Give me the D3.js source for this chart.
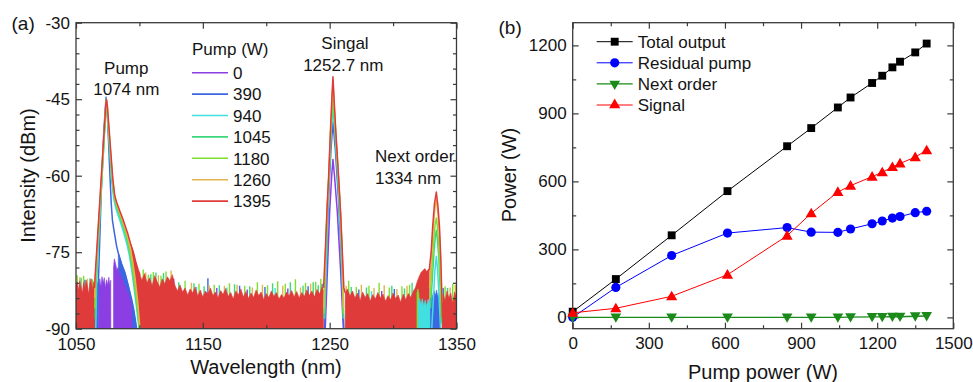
<!DOCTYPE html>
<html><head><meta charset="utf-8">
<script src="https://cdn.jsdelivr.net/npm/d3@7"></script>
<style>
body{margin:0;background:#fff}
svg{display:block}
text{font-family:"Liberation Sans",Arial,sans-serif;fill:#141414}
</style></head>
<body><svg id="c" width="973" height="382"></svg>
<script>
// ---------------- Panel (a) data: spectra ----------------
const pumpLevels = ["0","390","940","1045","1180","1260","1395"];
const xTicksA = [1050,1150,1250,1350];
const xMinorA = [1100,1200,1300];
const yTicksA = [-90,-75,-60,-45,-30];

// 1395 W (red)
const pump1395 = [[1064.6,-82],[1065,-80],[1067,-72],[1069,-64],[1071,-56],[1072.5,-50],[1073.5,-46],[1074,-45],[1074.8,-46.5],[1076,-50.5],[1077.5,-55.5],[1079,-60.5],[1080.5,-63.8],[1082,-65.2],[1083.5,-66.2],[1085,-67.2],[1087,-68.5],[1089,-70],[1091,-71.5],[1093,-73.3],[1095,-74.8],[1097,-76.8],[1099,-78.5],[1100.5,-79.5]];
const signal1395 = [[1245.2,-82],[1246.5,-75],[1248,-66],[1249.2,-60],[1250.5,-52],[1251.6,-45.5],[1252.6,-40.6],[1253.6,-45.5],[1255,-52],[1257,-60],[1258.8,-68],[1260,-75],[1261.2,-82],[1262.3,-83]];
const next1395 = [[1328.5,-78.5],[1330,-75],[1331.2,-70],[1332.6,-65.5],[1334.1,-63.2],[1335.4,-66],[1336.6,-70],[1337.6,-76],[1338.3,-82],[1338.8,-88]];
const floor1395 = [
 [[1050,-90],[1050,-81.5],[1051,-80.8],[1052,-82.5],[1053,-80.6],[1054,-81.8],[1055,-83],[1056,-80.9],[1057,-82.2],[1058,-80.5],[1059,-81.6],[1060,-83.2],[1061,-81],[1062,-80.2],[1063,-82.4],[1064,-80.8],[1064.6,-81.5],[1065.1,-90]],
 [[1100.5,-90],[1093,-73.3],[1095,-74.8],[1097,-76.8],[1099,-78.5],[1100.5,-79.5],[1102,-80.5],[1104,-79.2],[1106,-81],[1108,-80],[1110,-81.6],[1112,-79.6],[1114,-80.8],[1116,-81.8],[1118,-80.2],[1120,-81.2],[1122,-79.8],[1124,-80.6],[1126,-79.4],[1128,-81.5],[1130,-82.6],[1132,-81.4],[1134,-82.8],[1136,-82],[1138,-83.4],[1140,-82.2],[1142,-83],[1144,-81.8],[1146,-83.6],[1148,-82.4],[1150,-83.8],[1152,-82.6],[1154,-83.2],[1156,-82],[1158,-83.5],[1160,-82.8],[1162,-84],[1164,-82.5],[1166,-83.3],[1168,-82.1],[1170,-83.7],[1172,-82.9],[1174,-84.2],[1176,-82.6],[1178,-83.4],[1180,-82.2],[1182,-83.8],[1184,-82.7],[1186,-84.1],[1188,-83],[1190,-83.9],[1192,-82.4],[1194,-83.5],[1196,-82.8],[1198,-84.3],[1200,-83.1],[1202,-83.9],[1204,-82.6],[1206,-83.7],[1208,-82.9],[1210,-84.2],[1212,-83.3],[1214,-84],[1216,-82.8],[1218,-83.6],[1220,-82.5],[1222,-83.8],[1224,-82.7],[1226,-84],[1228,-82.9],[1230,-83.7],[1232,-82.4],[1234,-83.5],[1236,-82.6],[1238,-83.8],[1240,-82.3],[1242,-83.2],[1244,-81.8],[1245.2,-82.5],[1245.2,-90]],
 [[1262.3,-90],[1262.3,-83],[1264,-82.2],[1266,-83.6],[1268,-82.6],[1270,-84],[1272,-83],[1274,-84.5],[1276,-82.8],[1278,-83.9],[1280,-83.1],[1282,-84.6],[1284,-83.3],[1286,-84.2],[1288,-82.9],[1290,-84],[1292,-83.2],[1294,-84.6],[1296,-83.5],[1298,-84.3],[1300,-83],[1302,-84.1],[1304,-83.4],[1306,-84.8],[1308,-83.2],[1310,-84.3],[1312,-83.1],[1314,-83.9],[1316,-82.6],[1317.5,-82],[1319,-80.8],[1320.5,-79.8],[1322,-79],[1323.5,-78.6],[1325,-78.2],[1326.5,-78.8],[1328,-78.3],[1328.5,-78.5],[1328.5,-90]],
 [[1338.6,-90],[1338.6,-86],[1339.5,-83.2],[1341,-84.5],[1342.5,-82.6],[1344,-84],[1345.5,-83],[1347,-85.2],[1348.5,-82.8],[1350,-84],[1350,-90]]
];

// 1260 W (gold)
const pump1260 = [[1064.8,-84],[1065.3,-80],[1067.2,-72],[1069.2,-64],[1071.2,-56],[1072.6,-50],[1073.6,-46],[1074,-45.1],[1074.7,-46.6],[1075.8,-50.5],[1077.3,-55.5],[1078.8,-60.5],[1080.3,-63.8],[1081.8,-65.3],[1083.3,-66.4],[1084.8,-67.4],[1086.8,-68.9],[1088.8,-70.4],[1090.8,-72],[1092.6,-73.9],[1094.5,-76.5],[1096.5,-80],[1098.6,-84.5],[1100.4,-90]];
const signal1260 = [[1245.4,-86],[1246.7,-75],[1248.1,-66],[1249.3,-60],[1250.6,-52],[1251.7,-46],[1252.6,-41.3],[1253.5,-46],[1254.9,-52],[1256.9,-60],[1258.7,-68],[1259.9,-75],[1261,-86]];
const next1260 = [[1328.8,-82],[1330.3,-76],[1331.5,-71],[1332.8,-66.8],[1334.1,-64.5],[1335.3,-67.3],[1336.5,-71.5],[1337.5,-77],[1338.4,-85]];
const tips1260 = [[1053,-79.9],[1059,-80.2],[1105,-79],[1115,-79.5],[1125,-78.6],[1141,-81],[1155,-81.5],[1167,-81.6],[1177,-81.4],[1189,-81.9],[1197,-81.4],[1213,-81.6],[1227,-81.9],[1235,-81.2],[1263,-81.6],[1275,-81.4],[1285,-82],[1293,-81.5],[1303,-82.2],[1311,-81.6],[1345,-81.9],[1349,-81.4]];

// 1180 W (yellow-green)
const pump1180 = [[1065,-86],[1065.5,-80],[1067.4,-72],[1069.4,-64],[1071.3,-56],[1072.7,-50],[1073.7,-46],[1074,-45.2],[1074.6,-46.7],[1075.7,-50.6],[1077.1,-55.6],[1078.6,-60.6],[1080.1,-63.9],[1081.6,-65.5],[1083.1,-66.6],[1084.6,-67.6],[1086.6,-69.1],[1088.6,-70.7],[1090.6,-72.4],[1092.4,-74.4],[1094.3,-77.3],[1096.3,-81],[1098.4,-85.3],[1100.2,-90]];
const signal1180 = [[1245.5,-87],[1246.8,-75],[1248.2,-66],[1249.4,-60],[1250.7,-52],[1251.8,-46.5],[1252.6,-42],[1253.4,-46.5],[1254.8,-52],[1256.8,-60],[1258.6,-68],[1259.8,-75],[1260.9,-87]];
const next1180 = [[1329.2,-84],[1330.6,-78],[1332,-72.5],[1333.2,-69.5],[1334.1,-68.3],[1335,-70],[1336.2,-74],[1337.3,-80],[1338.3,-88]];
const tips1180 = [[1051,-79.5],[1056,-79.6],[1063,-80.3],[1103,-78.4],[1107,-79.4],[1111,-78.9],[1117,-79.6],[1121,-78.8],[1136,-80.6],[1147,-81.2],[1159,-81.4],[1171,-81.1],[1183,-81.6],[1193,-80.9],[1201,-81.5],[1209,-80.7],[1215,-81.2],[1223,-80.3],[1231,-81],[1239,-80.8],[1243,-80.2],[1265,-80.6],[1271,-81.8],[1281,-81.6],[1289,-81],[1297,-81.9],[1307,-81.7],[1313,-81.4],[1341,-81.7],[1347,-81.2]];
const fill1180 = [[[1318.8,-90],[1318.8,-83],[1319.6,-82.2],[1320.4,-83.4],[1320.7,-90]]];

// 1045 W (green)
const pump1045 = [[1065.2,-88],[1065.8,-80],[1067.6,-72],[1069.6,-64],[1071.5,-56],[1072.8,-50],[1073.7,-46.2],[1074,-45.3],[1074.5,-46.8],[1075.6,-50.8],[1077,-55.8],[1078.4,-60.8],[1079.9,-64],[1081.4,-65.7],[1082.9,-66.8],[1084.4,-67.9],[1086.4,-69.4],[1088.4,-71],[1090.4,-72.8],[1092.2,-74.8],[1094.1,-77.8],[1096.1,-81.5],[1098.2,-85.8],[1100,-90]];
const signal1045 = [[1245.6,-88],[1247,-75],[1248.4,-66],[1249.6,-60],[1250.9,-52.5],[1251.9,-47.5],[1252.6,-43.5],[1253.3,-47.5],[1254.6,-52.5],[1256.6,-60],[1258.4,-68],[1259.6,-75],[1260.8,-88]];
const next1045 = [[1329.5,-86],[1331,-80],[1332.4,-74.5],[1333.4,-71.8],[1334.1,-70.7],[1334.9,-72.5],[1336,-76],[1337.1,-82],[1338.1,-89]];
const tips1045 = [[1054,-80],[1061,-80.1],[1109,-79.3],[1113,-79],[1119,-79.1],[1131,-80.9],[1143,-81.1],[1151,-81.7],[1163,-81.5],[1175,-81.3],[1187,-81.7],[1205,-81.1],[1219,-80.9],[1229,-81.6],[1237,-80.9],[1241,-81.5],[1267,-81.8],[1279,-81.9],[1299,-81.6],[1309,-82.1],[1315,-81],[1343,-82]];

// 940 W (cyan)
const pump940 = [[1065.6,-90],[1066.2,-82],[1068,-72],[1069.9,-63],[1071.7,-55],[1073,-49],[1073.7,-44.8],[1074.4,-46.8],[1075.4,-51],[1076.8,-56],[1078.2,-61],[1079.7,-64.4],[1081.2,-66.2],[1082.7,-67.4],[1084.2,-68.5],[1086.2,-70],[1088.2,-71.7],[1090.2,-73.5],[1092,-75.5],[1093.9,-78.5],[1095.9,-82.2],[1098,-86.5],[1099.7,-90]];
const signal940 = [[1246,-88],[1247.5,-76],[1249.2,-62],[1251,-52],[1252.6,-46.5],[1254.3,-52],[1256.8,-62],[1259,-74],[1261,-88]];
const next940 = [[1330.5,-90],[1331.8,-84],[1333,-78.5],[1334.1,-75.8],[1335.1,-78.5],[1336.3,-84],[1337.4,-90]];
const tips940 = [[1145,-81.8],[1169,-81.9],[1207,-82],[1283,-82.6]];
const fill940 = [[[1319.8,-90],[1319.8,-85],[1320.8,-84],[1322,-85.2],[1323,-84.1],[1324.2,-85.5],[1325.3,-84.4],[1326.5,-85.6],[1327.6,-84.2],[1328.8,-85],[1330,-84.3],[1331,-90]]];

// 390 W (blue)
const pump390 = [[1066.3,-90],[1067.5,-82],[1068.8,-72],[1070.3,-60],[1072,-51],[1073.7,-44.6],[1074.5,-47],[1075.5,-52.4],[1076.8,-60.2],[1077.8,-65.5],[1078.7,-68.7],[1080,-70.8],[1080.8,-72],[1082,-73.8],[1083.4,-75.2],[1086,-77.3],[1088.7,-79.1],[1091.5,-81.8],[1094,-84.4],[1095.5,-86.2],[1096.6,-88],[1097.8,-90]];
const signal390 = [[1246,-90],[1247.5,-78],[1249.2,-64],[1251,-55],[1252.6,-49.5],[1254.5,-55],[1256.8,-64],[1259,-75],[1261.2,-90]];
const tips390 = [[1057,-80.4],[1154,-80.1],[1179,-81.6],[1199,-81.8],[1233,-81.7],[1244,-81.2],[1273,-82.3],[1301,-82.2],[1339.5,-82]];
const fill390 = [
 [[1065.3,-90],[1065.3,-81],[1066,-80.3],[1066.8,-81.4],[1067.6,-80.6],[1068,-90]],
 [[1083.4,-90],[1083.4,-75.2],[1086,-77.3],[1088.7,-79.1],[1091.5,-81.8],[1094,-84.4],[1095.5,-86.2],[1096.6,-88],[1097.8,-90]],
 [[1329.5,-90],[1329.5,-84],[1330.5,-83],[1331.5,-84.2],[1332.5,-82.6],[1333.5,-83.5],[1334.3,-82.4],[1335.2,-83.8],[1336,-83],[1337,-85],[1337.5,-90]]
];

// 0 W (purple)
const signal0 = [[1246.5,-90],[1248,-80],[1250,-67],[1251.6,-60],[1252.6,-56.8],[1253.8,-60],[1256,-67],[1258.5,-78],[1260.8,-90]];
const tips0 = [[1127,-80.2],[1161,-82],[1185,-82.3],[1217,-82.1],[1291,-82.6]];
const fill0 = [
 [[1068,-90],[1068,-81.5],[1068.8,-80.2],[1069.6,-81.8],[1070.5,-79.8],[1071.4,-81],[1072.3,-80],[1073.2,-82],[1074.1,-80.4],[1075,-81.4],[1075.9,-79.9],[1076.7,-81.6],[1077.4,-80.5],[1077.5,-90]],
 [[1079.6,-90],[1079.6,-78],[1080.2,-76.3],[1081.2,-77.2],[1082.2,-78.5],[1083.2,-78],[1084.2,-79.6],[1085.2,-79.2],[1086.2,-80.8],[1087.2,-80.3],[1088.2,-81.9],[1089.2,-81.5],[1090.2,-83],[1091.2,-82.7],[1092.2,-84.3],[1093,-84],[1093.8,-85.6],[1094.4,-90]]
];

// ---------------- Panel (b) data ----------------
const pumpPower    = [0,170,390,610,845,940,1045,1095,1180,1220,1260,1290,1350,1395];
const totalOutput  = [25,169,362,557,755,835,926,970,1034,1066,1103,1128,1169,1208];
const residualPump = [0,132,273,372,396,376,375,390,413,425,438,445,462,468];
const nextOrder    = [0,0,0,0,0,0,0,1,2,2,3,3,5,6];
const signalPower  = [20,40,93,188,360,459,553,581,621,640,663,679,707,737];
const seriesNamesB = ["Total output","Residual pump","Next order","Signal"];
const xTicksB = [0,300,600,900,1200,1500];
const xMinorB = [150,450,750,1050,1350];
const yTicksB = [0,300,600,900,1200];
const yMinorB = [150,450,750,1050];

// ---------------- drawing ----------------
const colorsA = ["#8b3fe3","#3c67e3","#42dfe0","#3dd87d","#7fdf31","#e1b64b","#e03b3b"];
const svg = d3.select("#c");
const frameColor = "#3a3a3a";

const ax = d3.scaleLinear().domain([1050,1350]).range([76,456.5]);
const ay = d3.scaleLinear().domain([-90,-30]).range([328.7,22.7]);

svg.append("clipPath").attr("id","clipA").append("rect")
  .attr("x",ax(1050)).attr("y",ay(-30)).attr("width",ax(1350)-ax(1050)).attr("height",ay(-90)-ay(-30));
const gA = svg.append("g").attr("clip-path","url(#clipA)");
const lineA = d3.line().x(d=>ax(d[0])).y(d=>ay(d[1]));
const polyA = pts => lineA(pts) + "Z";

const tipsBy = [tips0,tips390,tips940,tips1045,tips1180,tips1260];
tipsBy.forEach((tips,i)=>{
  gA.append("g").selectAll("line").data(tips).join("line")
    .attr("x1",d=>ax(d[0])).attr("x2",d=>ax(d[0]))
    .attr("y1",ay(-90)).attr("y2",d=>ay(d[1]))
    .attr("stroke",colorsA[i]).attr("stroke-width",1.4);
});
// red floor
gA.append("g").selectAll("path").data(floor1395).join("path")
  .attr("d",polyA).attr("fill",colorsA[6]).attr("stroke",colorsA[6]).attr("stroke-width",0.6);
// lower-power filled regions
[[fill1180,4],[fill940,2],[fill390,1],[fill0,0]].forEach(([polys,i])=>{
  gA.append("g").selectAll("path").data(polys).join("path")
    .attr("d",polyA).attr("fill",colorsA[i]).attr("stroke",colorsA[i]).attr("stroke-width",0.6);
});
// peak lines
const linesBy = [
  [signal0],
  [pump390,signal390],
  [pump940,signal940,next940],
  [pump1045,signal1045,next1045],
  [pump1180,signal1180,next1180],
  [pump1260,signal1260,next1260],
  [pump1395,signal1395,next1395]
];
linesBy.forEach((ls,i)=>{
  gA.append("g").selectAll("path").data(ls).join("path")
    .attr("d",lineA).attr("fill","none").attr("stroke",colorsA[i])
    .attr("stroke-width",1.5).attr("stroke-linejoin","round");
});

function styleAxis(g){
  g.select(".domain").remove();
  g.selectAll("line").attr("stroke",frameColor).attr("stroke-width",1.2);
  g.selectAll("text").attr("font-size",17).attr("fill","#141414")
    .attr("font-family","Liberation Sans, Arial, sans-serif");
}
function frame(xs,ys,xt,xm,yt,ym,fmt,xPad,yPad){
  const x0=xs.range()[0],x1=xs.range()[1],y0=ys.range()[0],y1=ys.range()[1];
  const h=y0-y1,w=x1-x0;
  svg.append("g").attr("transform",`translate(0,${y0})`)
    .call(d3.axisBottom(xs).tickValues(xt).tickSizeInner(-6).tickSizeOuter(0).tickPadding(xPad).tickFormat(d=>String(d))).call(styleAxis);
  svg.append("g").attr("transform",`translate(0,${y0})`)
    .call(d3.axisBottom(xs).tickValues(xm).tickSizeInner(-3.5).tickSizeOuter(0).tickFormat("")).call(styleAxis);
  svg.append("g").attr("transform",`translate(0,${y1})`)
    .call(d3.axisTop(xs).tickValues(xt).tickSizeInner(-6).tickSizeOuter(0).tickFormat("")).call(styleAxis);
  svg.append("g").attr("transform",`translate(0,${y1})`)
    .call(d3.axisTop(xs).tickValues(xm).tickSizeInner(-3.5).tickSizeOuter(0).tickFormat("")).call(styleAxis);
  svg.append("g").attr("transform",`translate(${x0},0)`)
    .call(d3.axisLeft(ys).tickValues(yt).tickSizeInner(-6).tickSizeOuter(0).tickPadding(yPad).tickFormat(fmt)).call(styleAxis);
  svg.append("g").attr("transform",`translate(${x0},0)`)
    .call(d3.axisLeft(ys).tickValues(ym).tickSizeInner(-3.5).tickSizeOuter(0).tickFormat("")).call(styleAxis);
  svg.append("g").attr("transform",`translate(${x1},0)`)
    .call(d3.axisRight(ys).tickValues(yt).tickSizeInner(-6).tickSizeOuter(0).tickFormat("")).call(styleAxis);
  svg.append("g").attr("transform",`translate(${x1},0)`)
    .call(d3.axisRight(ys).tickValues(ym).tickSizeInner(-3.5).tickSizeOuter(0).tickFormat("")).call(styleAxis);
  svg.append("rect").attr("x",x0).attr("y",y1).attr("width",w).attr("height",h)
    .attr("fill","none").attr("stroke",frameColor).attr("stroke-width",1.3);
}
const yMinorA = d3.range(-87,-30,3).filter(v=>v%15!==0);
frame(ax,ay,xTicksA,xMinorA,yTicksA,yMinorA,d=>String(d),9.5,6);

function txt(x,y,s,size,anchor){
  return svg.append("text").attr("x",x).attr("y",y).attr("font-size",size)
    .attr("text-anchor",anchor||"start").text(s);
}
txt(11.5,29.5,"(a)",19);
txt(266,374,"Wavelength (nm)",20,"middle");
svg.append("text").attr("transform","translate(35,175.5) rotate(-90)")
  .attr("font-size",20).attr("text-anchor","middle").text("Intensity (dBm)");
txt(126.3,74,"Pump",17,"middle");
txt(126.3,95,"1074 nm",17,"middle");
txt(345,49,"Singal",17,"middle");
txt(343.3,70.5,"1252.7 nm",17,"middle");
txt(375,162,"Next order",17);
txt(375,184,"1334 nm",17);

// legend (a)
txt(192,55,"Pump (W)",17);
const legA = svg.append("g").selectAll("g").data(pumpLevels).join("g")
  .attr("transform",(d,i)=>`translate(192,${72.7+i*21.4})`);
legA.append("line").attr("x1",0).attr("x2",36).attr("y1",0).attr("y2",0)
  .attr("stroke",(d,i)=>colorsA[i]).attr("stroke-width",1.6);
legA.append("text").attr("x",41).attr("y",6.2).attr("font-size",17).text(d=>d);

// ---------------- Panel (b) ----------------
const bx = d3.scaleLinear().domain([0,1500]).range([572.7,953.3]);
const by = d3.scaleLinear().domain([-50,1300]).range([328.7,22.7]);
frame(bx,by,xTicksB,xMinorB,yTicksB,yMinorB,d=>String(d),8,6);
txt(498.5,34.3,"(b)",19);
txt(763,378.5,"Pump power (W)",20,"middle");
svg.append("text").attr("transform","translate(516,175) rotate(-90)")
  .attr("font-size",20).attr("text-anchor","middle").text("Power (W)");

const seriesB = [totalOutput,residualPump,nextOrder,signalPower];
const colorsB = ["#000000","#0000ff","#1a8a1a","#ff0000"];
const symbolsB = [
  d3.symbol().type(d3.symbolSquare).size(62),
  d3.symbol().type(d3.symbolCircle).size(66),
  d3.symbol().type(d3.symbolTriangle).size(50),
  d3.symbol().type(d3.symbolTriangle).size(54)
];
const rotB = [0,0,180,0];
const widthB = [1,1,1.4,1];
const lineB = d3.line().x(d=>bx(d[0])).y(d=>by(d[1]));
seriesB.forEach((vals,i)=>{
  const pts = pumpPower.map((p,k)=>[p,vals[k]]);
  svg.append("path").attr("d",lineB(pts)).attr("fill","none")
    .attr("stroke",colorsB[i]).attr("stroke-width",widthB[i]);
  svg.append("g").selectAll("path").data(pts).join("path")
    .attr("d",symbolsB[i]())
    .attr("transform",d=>`translate(${bx(d[0])},${by(d[1])+(i===2?-0.8:(i===3?0.8:0))}) rotate(${rotB[i]})`)
    .attr("fill",colorsB[i]);
});
// legend (b)
const legB = svg.append("g").selectAll("g").data(seriesNamesB).join("g")
  .attr("transform",(d,i)=>`translate(596.7,${41.7+i*21.1})`);
legB.append("line").attr("x1",0).attr("x2",36).attr("y1",0).attr("y2",0)
  .attr("stroke",(d,i)=>colorsB[i]).attr("stroke-width",(d,i)=>widthB[i]);
legB.append("path").attr("d",(d,i)=>symbolsB[i]())
  .attr("transform",(d,i)=>`translate(18,0) rotate(${rotB[i]})`)
  .attr("fill",(d,i)=>colorsB[i]);
legB.append("text").attr("x",41).attr("y",6.2).attr("font-size",17).text(d=>d);
</script>
</body></html>
